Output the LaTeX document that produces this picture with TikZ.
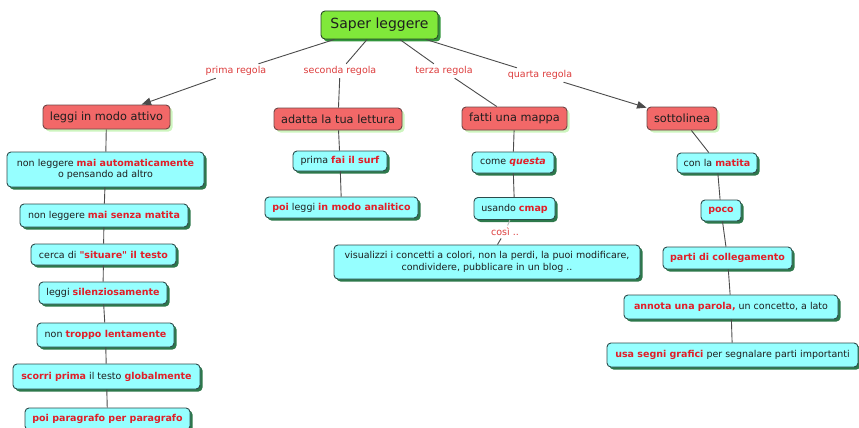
\documentclass[tikz,border=0pt]{standalone}
\usepackage{fontspec}
\setmainfont{DejaVu Sans}
\usetikzlibrary{shadows,arrows.meta}
\definecolor{rootfill}{RGB}{128,232,58}
\definecolor{rootshadow}{RGB}{50,150,60}
\definecolor{rootdraw}{RGB}{40,70,40}
\definecolor{redfill}{RGB}{242,104,104}
\definecolor{redshadow}{RGB}{205,245,190}
\definecolor{reddraw}{RGB}{110,70,70}
\definecolor{cyanfill}{RGB}{150,255,255}
\definecolor{cyanshadow}{RGB}{45,120,75}
\definecolor{cyandraw}{RGB}{45,75,75}
\definecolor{hlred}{RGB}{225,30,40}
\definecolor{labred}{RGB}{220,60,60}
\definecolor{linegray}{RGB}{75,75,75}
\definecolor{txt}{RGB}{30,30,30}
\newcommand\hl[1]{\textcolor{hlred}{\textbf{#1}}}
\newcommand\hli[1]{\textcolor{hlred}{\textbf{\textit{#1}}}}
\begin{document}
\begin{tikzpicture}[x=1pt,y=-1pt,
  base/.style={rounded corners=4pt, line width=0.9pt, inner sep=2pt, text=txt, align=center},
  sz/.style 2 args={minimum width=#1pt, minimum height=#2pt},
  rootbox/.style={base, fill=rootfill, draw=rootdraw, font=\fontsize{14}{16}\selectfont,
    drop shadow={shadow xshift=2.5pt, shadow yshift=-2.5pt, fill=rootshadow, opacity=1}},
  redbox/.style={base, fill=redfill, draw=reddraw, font=\fontsize{11.3}{13}\selectfont,
    drop shadow={shadow xshift=2.5pt, shadow yshift=-2.5pt, fill=redshadow, opacity=1}},
  cyanbox/.style={base, fill=cyanfill, draw=cyandraw, font=\fontsize{9.5}{11.5}\selectfont,
    drop shadow={shadow xshift=2.5pt, shadow yshift=-2.5pt, fill=cyanshadow, opacity=1}},
  lab/.style={font=\fontsize{9.5}{11}\selectfont, text=labred, inner sep=2.4pt},
  conn/.style={draw=linegray, line width=0.9pt},
  arr/.style={conn, -{Triangle[length=9.5pt,width=7.5pt]}}
]
\useasboundingbox (0,0) rectangle (859,428);

% root
\node[rootbox, sz={117}{28}] (root) at (379.5,25) {Saper leggere};

% level 1
\node[redbox, sz={127}{24}] (r1) at (106.5,117) {leggi in modo attivo};
\node[redbox, sz={128}{22}] (r2) at (338,119) {adatta la tua lettura};
\node[redbox, sz={105}{23}] (r3) at (514.5,118.5) {fatti una mappa};
\node[redbox, sz={70}{23}] (r4) at (682,118.5) {sottolinea};

% link labels
\node[lab] (l1) at (236,71) {prima regola};
\node[lab] (l2) at (340,71) {seconda regola};
\node[lab] (l3) at (444,71) {terza regola};
\node[lab] (l4) at (540,75) {quarta regola};
\node[lab] (l5) at (505,232) {così ..};

% column 1
\node[cyanbox, sz={197}{35}] (c1a) at (105.5,169.5) {non leggere \hl{mai automaticamente}\\o pensando ad altro};
\node[cyanbox, sz={168}{23}] (c1b) at (104,215.5) {non leggere \hl{mai senza matita}};
\node[cyanbox, sz={145}{21}] (c1c) at (103.5,254.5) {cerca di \hl{\textquotedbl situare\textquotedbl{} il testo}};
\node[cyanbox, sz={128}{22}] (c1d) at (103,293) {leggi \hl{silenziosamente}};
\node[cyanbox, sz={137}{24}] (c1e) at (105.5,335) {non \hl{troppo lentamente}};
\node[cyanbox, sz={187}{25}] (c1f) at (106.5,376.5) {\hl{scorri prima} il testo \hl{globalmente}};
\node[cyanbox, sz={165}{22}] (c1g) at (107.5,419) {\hl{poi paragrafo per paragrafo}};

% column 2
\node[cyanbox, sz={94}{20}] (c2a) at (340,161) {prima \hl{fai il surf}};
\node[cyanbox, sz={153}{21}] (c2b) at (341.5,207.5) {\hl{poi} leggi \hl{in modo analitico}};

% column 3
\node[cyanbox, sz={82}{21}] (c3a) at (513,162.5) {come \hli{questa}};
\node[cyanbox, sz={81}{22}] (c3b) at (514.5,208.5) {usando \hl{cmap}};
\node[cyanbox, sz={306}{34}] (c3c) at (487,262) {visualizzi i concetti a colori, non la perdi, la puoi modificare,\\condividere, pubblicare in un blog ..};

% column 4
\node[cyanbox, sz={80}{20}] (c4a) at (717,163) {con la \hl{matita}};
\node[cyanbox, sz={40}{21}] (c4b) at (721,210.5) {\hl{poco}};
\node[cyanbox, sz={129}{22}] (c4c) at (727.5,258) {\hl{parti di collegamento}};
\node[cyanbox, sz={214}{24}] (c4d) at (731,307) {\hl{annota una parola,} un concetto, a lato};
\node[cyanbox, sz={251}{24}] (c4e) at (732.5,355) {\hl{usa segni grafici} per segnalare parti importanti};

% connectors root -> labels -> level 1
\draw[conn] (root) -- (l1);
\draw[arr] (l1) -- (r1);
\draw[conn] (root) -- (l2);
\draw[conn] (l2) -- (r2);
\draw[conn] (root) -- (l3);
\draw[conn] (l3) -- (r3);
\draw[conn] (root) -- (l4);
\draw[arr] (l4) -- (r4);

% column connectors
\draw[conn] (r1) -- (c1a);
\draw[conn] (c1a) -- (c1b);
\draw[conn] (c1b) -- (c1c);
\draw[conn] (c1c) -- (c1d);
\draw[conn] (c1d) -- (c1e);
\draw[conn] (c1e) -- (c1f);
\draw[conn] (c1f) -- (c1g);

\draw[conn] (r2) -- (c2a);
\draw[conn] (c2a) -- (c2b);

\draw[conn] (r3) -- (c3a);
\draw[conn] (c3a) -- (c3b);
\draw[conn, draw=linegray!40] (c3b) -- (l5);
\draw[conn] (l5) -- (c3c);

\draw[conn] (r4) -- (c4a);
\draw[conn] (c4a) -- (c4b);
\draw[conn] (c4b) -- (c4c);
\draw[conn] (c4c) -- (c4d);
\draw[conn] (c4d) -- (c4e);
\end{tikzpicture}
\end{document}
